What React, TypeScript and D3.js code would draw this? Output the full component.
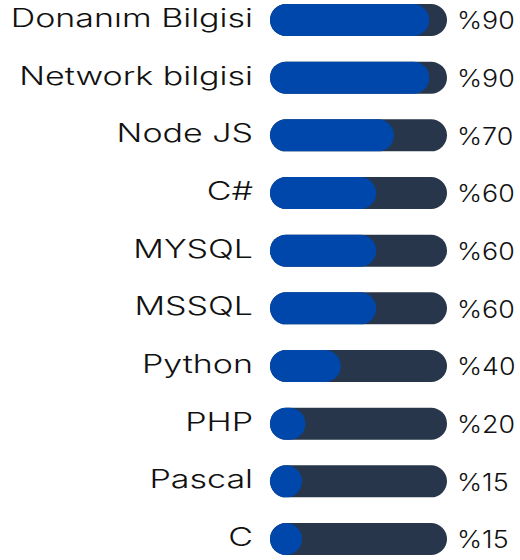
import React from "react";
import * as d3 from "d3";

const skills = ["Donanım Bilgisi", "Network bilgisi", "Node JS", "C#", "MYSQL", "MSSQL", "Python", "PHP", "Pascal", "C"];
const levels = [90, 90, 70, 60, 60, 60, 40, 20, 15, 15];
const percentLabels = ["%90", "%90", "%70", "%60", "%60", "%60", "%40", "%20", "%15", "%15"];

const W = 520;
const H = 560;
const barX0 = 270;
const barW = 177;
const barH = 32;
const labelRight = 253;
const pctLeft = 457;
const FONT = "Inter, 'Open Sans', sans-serif";

export default function App() {
  const y = d3.scalePoint<string>().domain(skills).range([20, 539]);
  const x = d3.scaleLinear().domain([0, 100]).range([0, barW]);
  return (
    <svg width={W} height={H} style={{ position: "absolute", left: 0, top: 0, background: "#fff" }}>
      {skills.map((s, i) => {
        const cy = y(s)!;
        const fw = Math.max(x(levels[i]), barH);
        return (
          <g key={s}>
            <text
              transform={`translate(${labelRight},${cy - 2.3}) scale(1.36,1)`}
              textAnchor="end"
              dominantBaseline="central"
              fontFamily={FONT}
              fontSize={25}
              fontWeight={300}
              fill="#111"
            >
              {s}
            </text>
            <rect x={barX0} y={cy - barH / 2} width={barW} height={barH} rx={barH / 2} fill="#27364a" />
            <rect x={barX0} y={cy - barH / 2} width={fw} height={barH} rx={barH / 2} fill="#0047ab" />
            <text
              transform={`translate(${pctLeft},${cy + 0.8}) scale(1.14,1)`}
              dominantBaseline="central"
              fontFamily={FONT}
              fontSize={23.5}
              fontWeight={300}
              fill="#111"
            >
              {percentLabels[i]}
            </text>
          </g>
        );
      })}
    </svg>
  );
}
